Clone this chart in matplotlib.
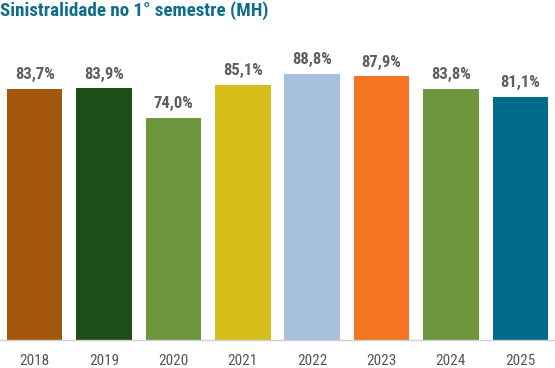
import matplotlib
matplotlib.use('Agg')
import matplotlib.pyplot as plt

years = ['2018', '2019', '2020', '2021', '2022', '2023', '2024', '2025']
values = [83.7, 83.9, 74.0, 85.1, 88.8, 87.9, 83.8, 81.1]
labels = ['83,7%', '83,9%', '74,0%', '85,1%', '88,8%', '87,9%', '83,8%', '81,1%']
colors = ['#A2570D', '#1C4E17', '#6E973D', '#D6BF1A', '#A6C0DE', '#F47521', '#6E973D', '#006C89']

# condensed sans, fall back to DejaVu
FONT = ['Roboto Condensed', 'Fira Sans Condensed', 'DejaVu Sans']

fig = plt.figure(figsize=(5.55, 3.68), dpi=100)
ax = fig.add_axes([0, 28 / 368, 1, 309 / 368])

x = range(len(years))
ax.bar(x, values, width=0.80, color=colors)
for i, (v, lab) in enumerate(zip(values, labels)):
    ax.text(i, v + 3.2, lab, ha='center', va='baseline', fontsize=12,
            fontweight='semibold', color='#5E5E5E', family=FONT)

ax.set_xlim(-0.5, 7.5)
ax.set_ylim(0, 103.0)
ax.set_yticks([])
ax.set_xticks(list(x))
ax.set_xticklabels(years, fontsize=11, color='#555555', family=FONT)
ax.tick_params(axis='x', length=0, pad=10)
for s in ['top', 'right', 'left']:
    ax.spines[s].set_visible(False)
ax.spines['bottom'].set_color('#D0D0D0')
ax.spines['bottom'].set_linewidth(1)

fig.text(0.0, 0.998, 'Sinistralidade no 1° semestre (MH)', ha='left', va='top',
         fontsize=13.7, fontweight='bold', color='#0E6E87', family=FONT)

fig.savefig('out.png', dpi=100)
